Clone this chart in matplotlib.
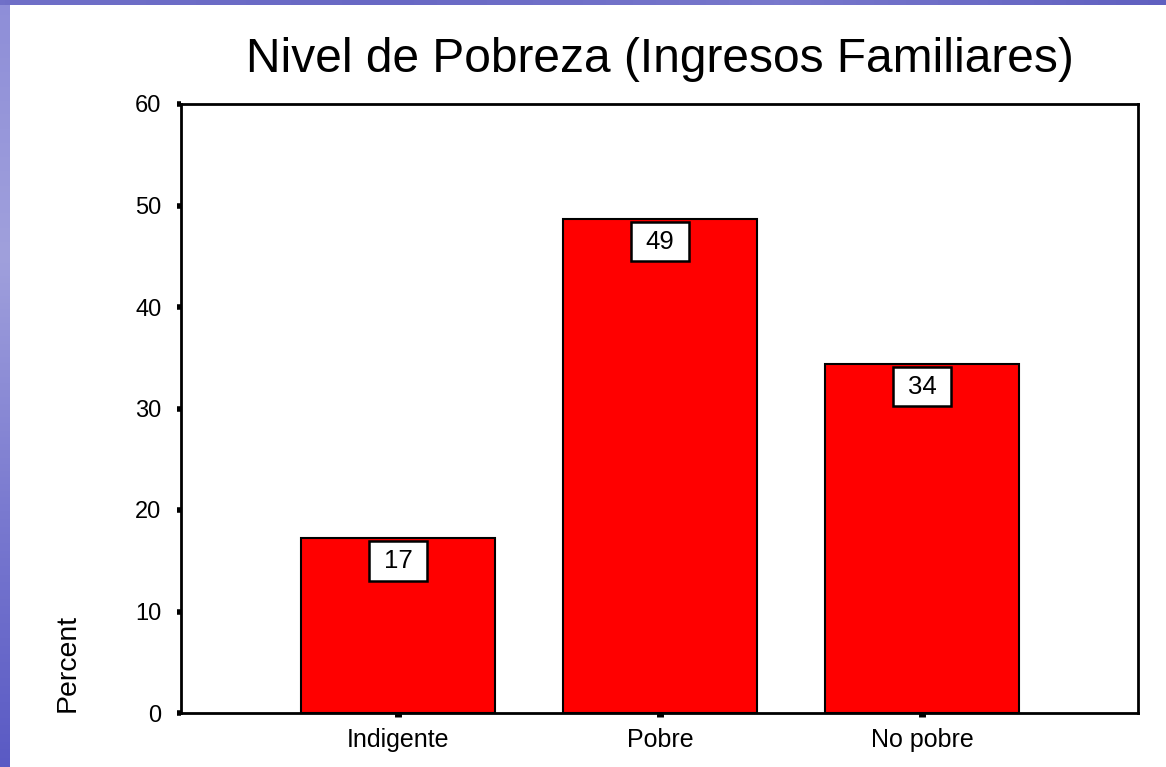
import numpy as np
import matplotlib.pyplot as plt
import matplotlib.patches as mpatches
from matplotlib.colors import LinearSegmentedColormap

categories = ["Indigente", "Pobre", "No pobre"]
percent = [17.2, 48.7, 34.4]
labels = ["17", "49", "34"]
yticks = [0, 10, 20, 30, 40, 50, 60]

fig = plt.figure(figsize=(11.66, 7.67), dpi=100)
fig.patch.set_facecolor("white")

# blue slide border (left strip and top strip)
grad = np.linspace(0, 1, 256).reshape(-1, 1)
bg = fig.add_axes([0, 0, 10 / 1166, 1])
bg.imshow(grad, aspect="auto", cmap=LinearSegmentedColormap.from_list(
    "b", ["#8e8ed8", "#a0a0dc", "#7a7ad0", "#5a5ac4"]), extent=[0, 1, 0, 1], origin="upper")
bg.axis("off")
top = fig.add_axes([0, 1 - 5 / 767, 1, 5 / 767])
top.imshow(grad.T, aspect="auto", cmap=LinearSegmentedColormap.from_list(
    "t", ["#7070c8", "#6868c4", "#7878cc", "#6060c0"]), extent=[0, 1, 0, 1])
top.axis("off")

plt.rcParams['font.family'] = ['Liberation Sans', 'DejaVu Sans']

L, R, T, B = 181, 1138, 104, 713
ax = fig.add_axes([L / 1166, 1 - B / 767, (R - L) / 1166, (B - T) / 767])
x = np.arange(len(categories))
ax.bar(x, percent, width=0.74, color="#ff0000", edgecolor="black", linewidth=1.5, zorder=2)

# value boxes hanging just under the top of each bar
bw, bh, gap = 0.22, 3.9, 0.3
for xi, v, lab in zip(x, percent, labels):
    ax.add_patch(mpatches.Rectangle((xi - bw / 2, v - gap - bh), bw, bh, facecolor="white",
                                    edgecolor="black", linewidth=1.8, zorder=3))
    ax.text(xi, v - gap - bh / 2, lab, ha="center", va="center", fontsize=18.5, zorder=4)

ax.set_xlim(-0.828, 2.824)
ax.set_ylim(0, 60)
ax.set_yticks(yticks)
ax.set_xticks(x)
ax.set_xticklabels(categories, fontsize=18)
ax.tick_params(axis="y", labelsize=17, length=3, width=4, direction="out", pad=11)
ax.tick_params(axis="x", length=3, width=5, direction="out", pad=8)
for s in ax.spines.values():
    s.set_linewidth(2)

ax.set_title("Nivel de Pobreza (Ingresos Familiares)", fontsize=34.5, pad=23)

fig.text(68 / 1166, 1 - 663 / 767, "Percent", rotation=90, ha="center", va="center",
         fontsize=20.5, family=["Liberation Sans Narrow", "Liberation Sans"])

fig.savefig("out.png", dpi=100)
